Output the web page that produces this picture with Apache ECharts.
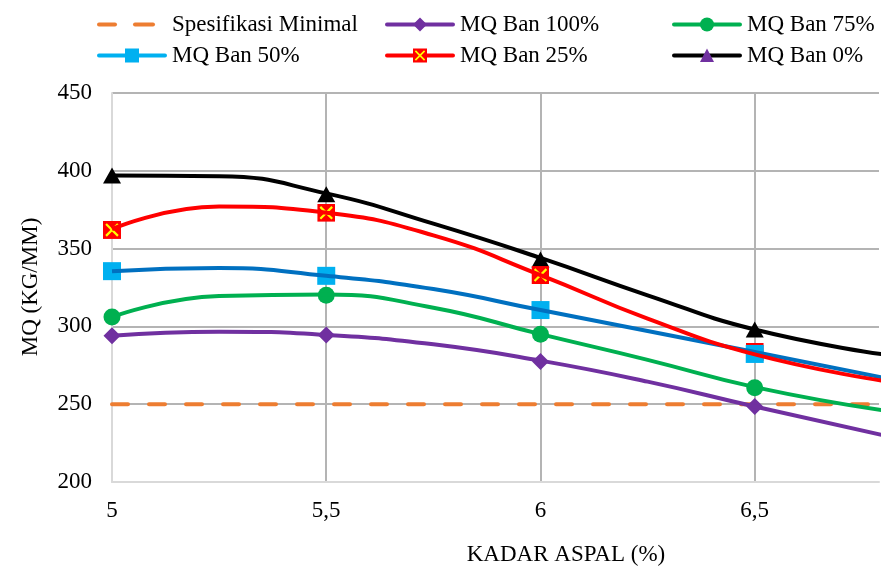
<!DOCTYPE html>
<html>
<head>
<meta charset="utf-8">
<script src="https://cdn.jsdelivr.net/npm/echarts@6/dist/echarts.min.js"></script>
<style>
  html, body { margin: 0; padding: 0; background: #fff; }
  #chart { width: 882px; height: 566px; }
</style>
</head>
<body>
<div id="chart"></div>
<script>
// Measured Marshall Quotient (kg/mm) per asphalt content
const kadarAspal = [5, 5.5, 6, 6.5];
const mqBan100 = [294, 294.5, 277.5, 248.5];
const mqBan75 = [306, 320, 295, 260.5];
const mqBan50 = [335.5, 332.5, 310.5, 282.3];
const mqBan25 = [362, 373, 333, 283.6];
const mqBan0 = [397, 385, 343, 298];

// Minimum specification
const spesifikasiMinimal = 250;
const specRange = [5, 6.8];

// Polynomial trend curves, sampled along asphalt content
const trendX = [5, 5.25, 5.5, 5.75, 6, 6.25, 6.5, 6.8];
const trend100 = [294, 296.6, 294.5, 288.5, 278, 264.5, 248.5, 230];
const trend75 = [306, 319.5, 320.5, 312, 295, 278.5, 261, 246];
const trend50 = [335.5, 337.5, 332.5, 324, 310.5, 297, 283.5, 267];
const trend25 = [362.5, 377, 373, 358.5, 333, 305, 282, 265];
const trend0 = [397, 396.5, 385.5, 366, 344, 320, 298, 282];

// Axis ticks
const xTicks = [5, 5.5, 6, 6.5];
const yTicks = [200, 250, 300, 350, 400, 450];

const FONT = '"Liberation Serif", "Times New Roman", serif';
const C = {
  orange: '#ED7D31', purple: '#7030A0', green: '#00B050',
  cyan: '#00B0F0', blue: '#0070C0', red: '#FF0000', black: '#000000', yellow: '#FFFF00'
};

function svgUrl(w, h, body) {
  return 'image://data:image/svg+xml;charset=utf-8,' + encodeURIComponent(
    '<svg xmlns="http://www.w3.org/2000/svg" width="' + w + '" height="' + h +
    '" viewBox="0 0 ' + w + ' ' + h + '">' + body + '</svg>');
}
function lineBody(color) {
  return '<line x1="2" y1="9" x2="68" y2="9" stroke="' + color + '" stroke-width="4" stroke-linecap="round"/>';
}
const crossSquare = (s) =>
  '<rect x="0" y="0" width="' + s + '" height="' + s + '" fill="' + C.red + '"/>' +
  '<path d="M' + (s * 0.17) + ',' + (s * 0.17) + ' L' + (s * 0.83) + ',' + (s * 0.83) +
  ' M' + (s * 0.83) + ',' + (s * 0.17) + ' L' + (s * 0.17) + ',' + (s * 0.83) +
  '" stroke="' + C.yellow + '" stroke-width="' + (s * 0.12) + '"/>';

const icons = {
  spec: svgUrl(70, 18,
    '<line x1="2" y1="9" x2="18" y2="9" stroke="' + C.orange + '" stroke-width="4" stroke-linecap="round"/>' +
    '<line x1="38" y1="9" x2="56" y2="9" stroke="' + C.orange + '" stroke-width="4" stroke-linecap="round"/>'),
  b100: svgUrl(70, 18, lineBody(C.purple) +
    '<polygon points="35,2 42,9 35,16 28,9" fill="' + C.purple + '"/>'),
  b75: svgUrl(70, 18, lineBody(C.green) +
    '<circle cx="35" cy="9" r="7" fill="' + C.green + '"/>'),
  b50: svgUrl(70, 18, lineBody(C.cyan) +
    '<rect x="28" y="2" width="14" height="14" fill="' + C.cyan + '"/>'),
  b25: svgUrl(70, 18, lineBody(C.red) +
    '<g transform="translate(28,2)">' + crossSquare(14) + '</g>'),
  b0: svgUrl(70, 18, lineBody(C.black) +
    '<polygon points="35,2 42,15.5 28,15.5" fill="' + C.purple + '"/>')
};
const crossMarker = svgUrl(18, 18, crossSquare(18));

const legendBase = {
  orient: 'horizontal', itemWidth: 70, itemHeight: 18, itemGap: 0, padding: 0,
  selectedMode: false,
  textStyle: { fontFamily: FONT, fontSize: 23, color: '#000' }
};
function legendAt(name, icon, left, top) {
  return Object.assign({}, legendBase, { left: left, top: top, data: [{ name: name, icon: icon }] });
}

const pairs = (xs, ys) => xs.map((x, i) => [x, ys[i]]);

function markerSeries(name, values, symbol, size, color) {
  return {
    name: name, type: 'scatter', data: pairs(kadarAspal, values),
    symbol: symbol, symbolSize: size, itemStyle: { color: color, opacity: 1 },
    z: 3, silent: true
  };
}
function trendSeries(name, values, color) {
  return {
    name: name, type: 'line', data: pairs(trendX, values), smooth: 0.5,
    symbol: 'none', showSymbol: false,
    lineStyle: { color: color, width: 4 }, itemStyle: { color: color },
    z: 4, silent: true
  };
}

const chart = echarts.init(document.getElementById('chart'), null, { renderer: 'canvas' });
chart.setOption({
  animation: false,
  backgroundColor: '#ffffff',
  grid: { left: 112, right: 0, top: 93, bottom: 84, containLabel: false },
  legend: [
    legendAt('Spesifikasi Minimal', icons.spec, 97, 13),
    legendAt('MQ Ban 100%', icons.b100, 385, 13),
    legendAt('MQ Ban 75%', icons.b75, 672, 13),
    legendAt('MQ Ban 50%', icons.b50, 97, 44),
    legendAt('MQ Ban 25%', icons.b25, 385, 44),
    legendAt('MQ Ban 0%', icons.b0, 672, 44)
  ],
  xAxis: {
    type: 'value', min: 5, max: 6.79, interval: 0.5,
    axisLine: { show: true, lineStyle: { color: '#D9D9D9', width: 2 } },
    axisTick: { show: false },
    axisLabel: {
      fontFamily: FONT, fontSize: 23, color: '#000', margin: 17,
      formatter: (v) => xTicks.some(t => Math.abs(t - v) < 1e-6) ? String(v).replace('.', ',') : ''
    },
    splitLine: { show: true, showMinLine: false, showMaxLine: false, lineStyle: { color: '#B4B4B4', width: 2 } }
  },
  yAxis: {
    type: 'value', min: yTicks[0], max: yTicks[yTicks.length - 1], interval: 50,
    axisLine: { show: true, lineStyle: { color: '#D9D9D9', width: 2 } },
    axisTick: { show: false },
    axisLabel: { fontFamily: FONT, fontSize: 23, color: '#000', margin: 20 },
    splitLine: { show: true, showMinLine: false, lineStyle: { color: '#B4B4B4', width: 2 } }
  },
  graphic: [
    {
      type: 'text', x: 566, y: 555,
      style: { text: 'KADAR ASPAL (%)', font: '23px ' + FONT, fill: '#000', align: 'center', verticalAlign: 'middle' }
    },
    {
      type: 'text', x: 31, y: 287, rotation: Math.PI / 2,
      style: { text: 'MQ (KG/MM)', font: '23px ' + FONT, fill: '#000', align: 'center', verticalAlign: 'middle' }
    }
  ],
  series: [
    {
      name: 'Spesifikasi Minimal', type: 'line',
      data: specRange.map(x => [x, spesifikasiMinimal]),
      symbol: 'none', showSymbol: false,
      lineStyle: { color: C.orange, width: 4, type: [16, 21], cap: 'round' },
      itemStyle: { color: C.orange }, z: 2, silent: true
    },
    markerSeries('MQ Ban 0%', mqBan0, 'triangle', [18, 16], C.black),
    markerSeries('MQ Ban 25%', mqBan25, crossMarker, 18, C.red),
    markerSeries('MQ Ban 50%', mqBan50, 'rect', 18, C.cyan),
    markerSeries('MQ Ban 75%', mqBan75, 'circle', 17, C.green),
    markerSeries('MQ Ban 100%', mqBan100, 'diamond', 17, C.purple),
    trendSeries('MQ Ban 100%', trend100, C.purple),
    trendSeries('MQ Ban 75%', trend75, C.green),
    trendSeries('MQ Ban 50%', trend50, C.blue),
    trendSeries('MQ Ban 25%', trend25, C.red),
    trendSeries('MQ Ban 0%', trend0, C.black)
  ]
});
</script>
</body>
</html>
